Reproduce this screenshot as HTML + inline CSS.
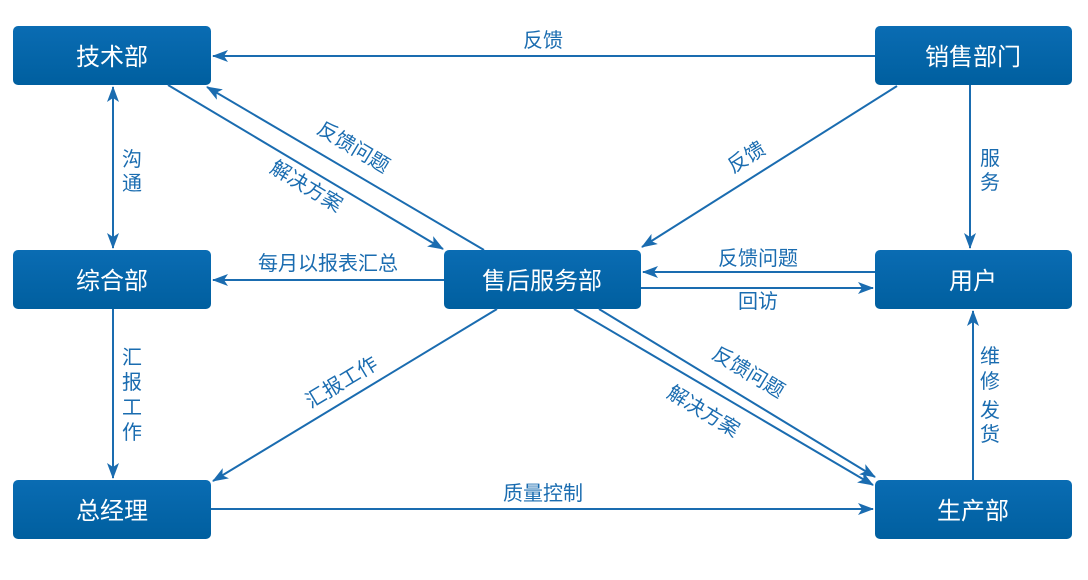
<!DOCTYPE html>
<html><head><meta charset="utf-8"><style>
body{margin:0;background:#fff;width:1088px;height:575px;overflow:hidden}
svg text{font-family:"Liberation Sans","Noto Sans CJK SC",sans-serif}
</style></head><body>
<svg width="1088" height="575" viewBox="0 0 1088 575">
<defs>
<linearGradient id="g" x1="0" y1="0" x2="0" y2="1"><stop offset="0" stop-color="#0a6cb3"/><stop offset="1" stop-color="#005f9f"/></linearGradient>
<marker id="a" markerWidth="16" markerHeight="12" refX="15" refY="6" orient="auto" markerUnits="userSpaceOnUse"><path d="M0,0 L16,6 L0,12 L4,6z" fill="#1a6cb0"/></marker>
</defs>
<g fill="url(#g)">
<rect x="13" y="26" width="198" height="59" rx="5"/>
<rect x="875" y="26" width="197" height="59" rx="5"/>
<rect x="13" y="250" width="198" height="59" rx="5"/>
<rect x="444" y="250" width="197" height="59" rx="5"/>
<rect x="875" y="250" width="197" height="59" rx="5"/>
<rect x="13" y="480" width="198" height="59" rx="5"/>
<rect x="875" y="480" width="197" height="59" rx="5"/>
</g>
<g fill="#fff" font-size="24" text-anchor="middle">
<text x="112" y="65">技术部</text>
<text x="973" y="65">销售部门</text>
<text x="112" y="289">综合部</text>
<text x="542" y="289">售后服务部</text>
<text x="973" y="289">用户</text>
<text x="112" y="519">总经理</text>
<text x="973" y="519">生产部</text>
</g>
<g stroke="#1a6cb0" stroke-width="2" fill="none" marker-end="url(#a)">
<line x1="875" y1="56" x2="213" y2="56"/>
<line x1="113" y1="150" x2="113" y2="87"/>
<line x1="113" y1="150" x2="113" y2="248"/>
<line x1="168" y1="85" x2="443" y2="249"/>
<line x1="484" y1="250" x2="207" y2="87"/>
<line x1="897" y1="86" x2="642" y2="247"/>
<line x1="970" y1="85" x2="970" y2="248"/>
<line x1="875" y1="272" x2="643" y2="272"/>
<line x1="641" y1="288" x2="873" y2="288"/>
<line x1="444" y1="280" x2="213" y2="280"/>
<line x1="113" y1="309" x2="113" y2="478"/>
<line x1="497" y1="309" x2="213" y2="481"/>
<line x1="574" y1="309" x2="873" y2="485"/>
<line x1="599" y1="309" x2="875" y2="477"/>
<line x1="211" y1="509" x2="873" y2="509"/>
<line x1="973" y1="480" x2="973" y2="311"/>
</g>
<g fill="#1a6cb0" font-size="20">
<text x="543" y="47" text-anchor="middle">反馈</text>
<text x="122" y="166">沟</text><text x="122" y="190">通</text>
<text x="980" y="165">服</text><text x="980" y="189">务</text>
<text x="122" y="364">汇</text><text x="122" y="389">报</text><text x="122" y="414">工</text><text x="122" y="439">作</text>
<text x="980" y="363">维</text><text x="980" y="388">修</text><text x="980" y="417">发</text><text x="980" y="441">货</text>
<text x="328" y="270" text-anchor="middle">每月以报表汇总</text>
<text x="758" y="265" text-anchor="middle">反馈问题</text>
<text x="758" y="308" text-anchor="middle">回访</text>
<text x="543" y="500" text-anchor="middle">质量控制</text>
<text transform="translate(350,153) rotate(31)" text-anchor="middle">反馈问题</text>
<text transform="translate(303,192) rotate(31)" text-anchor="middle">解决方案</text>
<text transform="translate(745,378) rotate(31)" text-anchor="middle">反馈问题</text>
<text transform="translate(700,417) rotate(31)" text-anchor="middle">解决方案</text>
<text transform="translate(750,163) rotate(-32)" text-anchor="middle">反馈</text>
<text transform="translate(345,388) rotate(-31)" text-anchor="middle">汇报工作</text>
</g>
</svg>
</body></html>
